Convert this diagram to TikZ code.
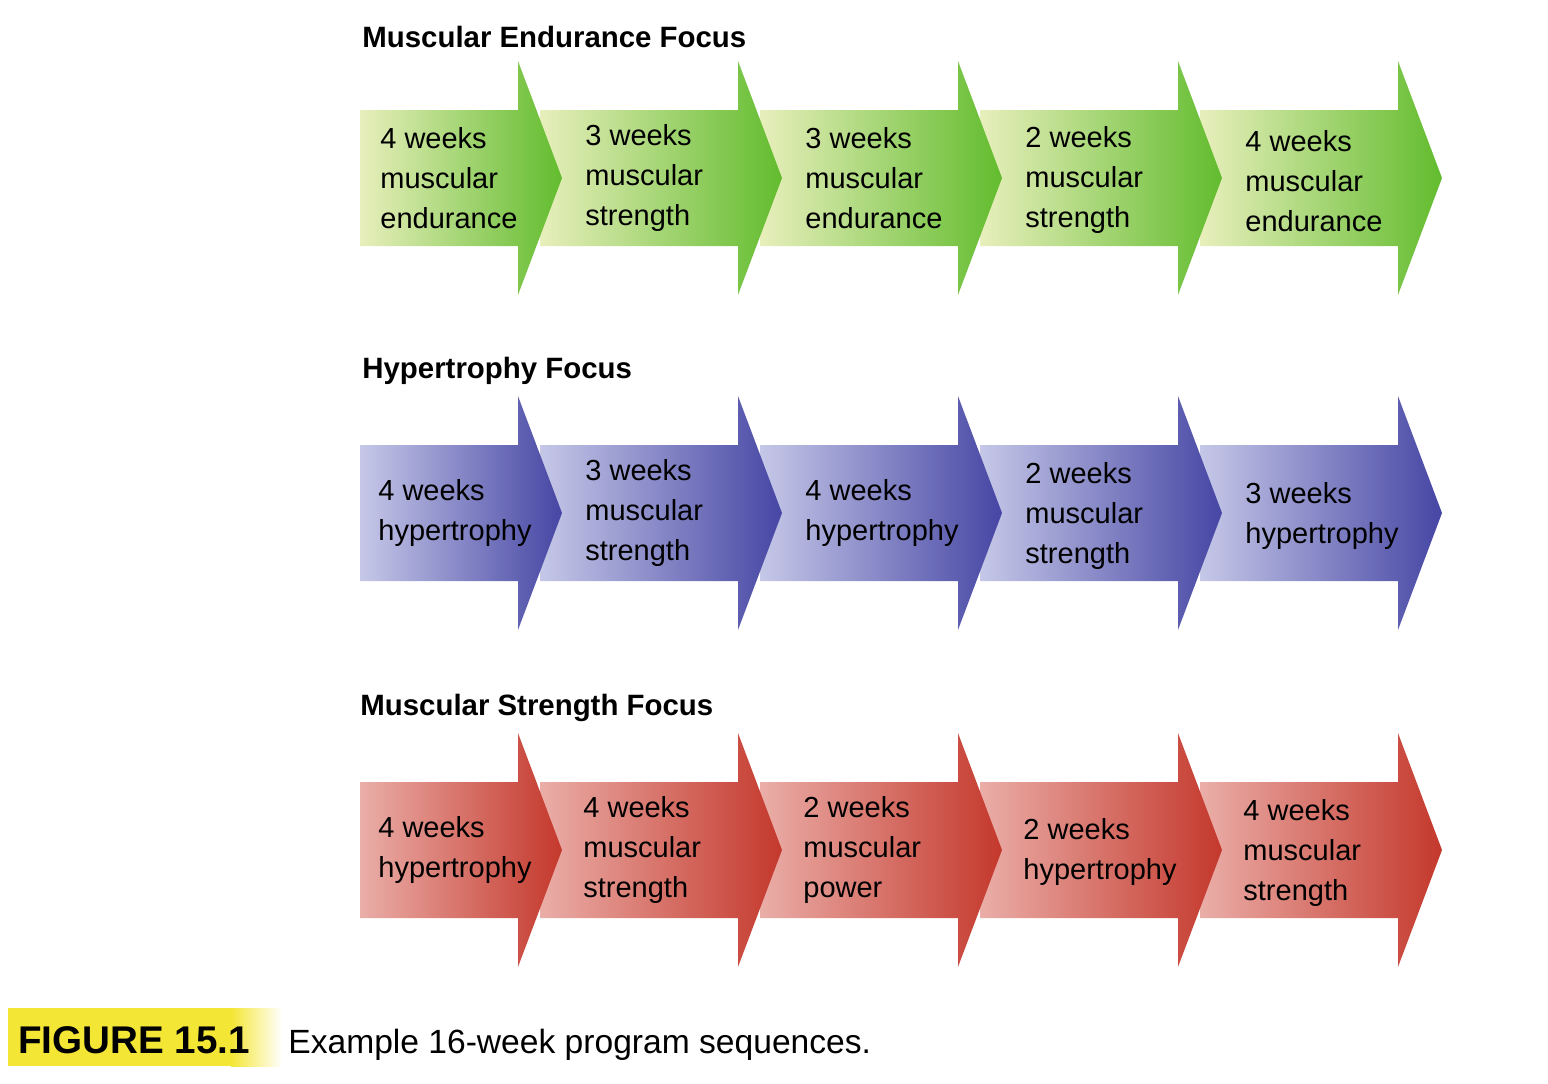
\documentclass[tikz,border=0pt]{standalone}
\usepackage{fontspec}
\setmainfont{Liberation Sans}
\usepackage{xcolor}
\definecolor{endlight}{HTML}{E8EFBC}
\definecolor{endmid}{HTML}{A6D66A}
\definecolor{enddark}{HTML}{62BC2E}
\definecolor{hyplight}{HTML}{C6C8E8}
\definecolor{hypmid}{HTML}{8A8ACA}
\definecolor{hypdark}{HTML}{4646A4}
\definecolor{strlight}{HTML}{EAAEA8}
\definecolor{strmid}{HTML}{D8736A}
\definecolor{strdark}{HTML}{C4382C}
\definecolor{capyellow}{HTML}{F4E634}
% one block arrow: style, body left, head back, mid line
\newcommand{\stagearrow}[4]{\shade[#1] (#2,#4-68) -- (#3,#4-68) -- (#3,#4-117) -- (#3+44,#4) -- (#3,#4+117) -- (#3,#4+68) -- (#2,#4+68) -- cycle;}

\begin{document}
\begin{tikzpicture}[x=0.5pt,y=-0.5pt,
  stagetext/.style={anchor=west,align=left,inner sep=0pt,font=\fontsize{14.5}{20}\selectfont},
  focustitle/.style={anchor=base west,inner sep=0pt,font=\bfseries\fontsize{14.7}{18}\selectfont},
  endshade/.style={left color=endlight,middle color=endmid,right color=enddark},
  hypshade/.style={left color=hyplight,middle color=hypmid,right color=hypdark},
  strshade/.style={left color=strlight,middle color=strmid,right color=strdark}]
  \useasboundingbox (0,0) rectangle (1548,1083);

  % Muscular endurance focus
  \node[focustitle] (endtitle) at (362,47) {Muscular Endurance Focus};
  \stagearrow{endshade}{1200}{1398}{178}
  \stagearrow{endshade}{980}{1178}{178}
  \stagearrow{endshade}{760}{958}{178}
  \stagearrow{endshade}{540}{738}{178}
  \stagearrow{endshade}{360}{518}{178}
  \node[stagetext] (end1) at (380,178) {4 weeks\\muscular\\endurance};
  \node[stagetext] (end2) at (585,178) {3 weeks\\muscular\\strength};
  \node[stagetext] (end3) at (805,178) {3 weeks\\muscular\\endurance};
  \node[stagetext] (end4) at (1025,180) {2 weeks\\muscular\\strength};
  \node[stagetext] (end5) at (1245,181) {4 weeks\\muscular\\endurance};

  % Hypertrophy focus
  \node[focustitle] (hyptitle) at (362,378) {Hypertrophy Focus};
  \stagearrow{hypshade}{1200}{1398}{513}
  \stagearrow{hypshade}{980}{1178}{513}
  \stagearrow{hypshade}{760}{958}{513}
  \stagearrow{hypshade}{540}{738}{513}
  \stagearrow{hypshade}{360}{518}{513}
  \node[stagetext] (hyp1) at (378,513) {4 weeks\\hypertrophy};
  \node[stagetext] (hyp2) at (585,513) {3 weeks\\muscular\\strength};
  \node[stagetext] (hyp3) at (805,513) {4 weeks\\hypertrophy};
  \node[stagetext] (hyp4) at (1025,516) {2 weeks\\muscular\\strength};
  \node[stagetext] (hyp5) at (1245,516) {3 weeks\\hypertrophy};

  % Muscular strength focus
  \node[focustitle] (strtitle) at (360,715) {Muscular Strength Focus};
  \stagearrow{strshade}{1200}{1398}{850}
  \stagearrow{strshade}{980}{1178}{850}
  \stagearrow{strshade}{760}{958}{850}
  \stagearrow{strshade}{540}{738}{850}
  \stagearrow{strshade}{360}{518}{850}
  \node[stagetext] (str1) at (378,850) {4 weeks\\hypertrophy};
  \node[stagetext] (str2) at (583,850) {4 weeks\\muscular\\strength};
  \node[stagetext] (str3) at (803,850) {2 weeks\\muscular\\power};
  \node[stagetext] (str4) at (1023,852) {2 weeks\\hypertrophy};
  \node[stagetext] (str5) at (1243,853) {4 weeks\\muscular\\strength};

  % Caption
  \fill[capyellow] (8,1008) rectangle (232,1066);
  \shade[left color=capyellow,right color=white] (231,1008) rectangle (282,1066);
  \node[anchor=base west,inner sep=0pt,font=\bfseries\fontsize{19.3}{22}\selectfont] (figlabel) at (18,1053) {FIGURE 15.1};
  \node[anchor=base west,inner sep=0pt,font=\fontsize{16.8}{20}\selectfont] (figcaption) at (288,1053) {Example 16-week program sequences.};
\end{tikzpicture}
\end{document}
